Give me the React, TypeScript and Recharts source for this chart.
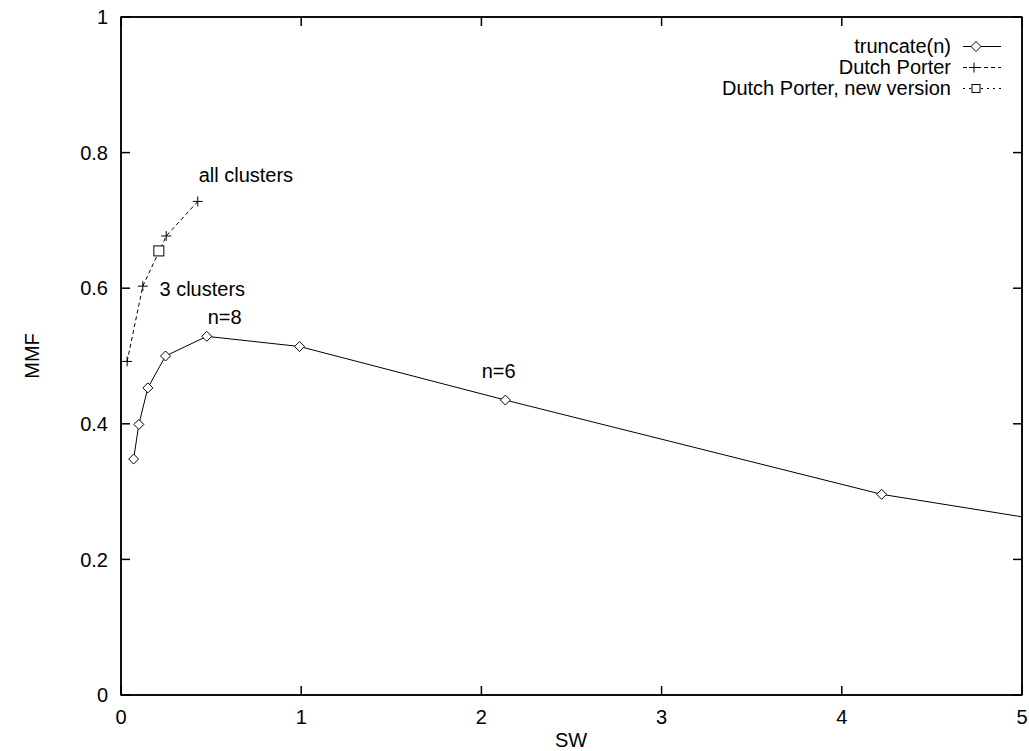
import {
  LineChart, Line, XAxis, YAxis, ReferenceDot, ReferenceArea,
} from "recharts";

// truncate(n) curve (last point runs past the frame and is clipped)
const truncX = [0.07, 0.099, 0.149, 0.247, 0.476, 0.991, 2.133, 4.221, 5.3];
const truncY = [0.348, 0.399, 0.453, 0.5, 0.529, 0.514, 0.435, 0.296, 0.25];

// Dutch Porter
const dpX = [0.034, 0.121, 0.251, 0.426];
const dpY = [0.492, 0.603, 0.677, 0.728];

// Dutch Porter, new version
const dpNewX = [0.21];
const dpNewY = [0.655];

const xTicks = [0, 1, 2, 3, 4, 5];
const yTicks = [0, 0.2, 0.4, 0.6, 0.8, 1];

const notes = ["all clusters", "3 clusters", "n=8", "n=6"];
const noteX = [0.693, 0.451, 0.575, 2.096];
const noteY = [0.767, 0.599, 0.558, 0.478];

const FONT = "'Liberation Sans', Arial, Helvetica, sans-serif";
const INK = "#000";

const zip = (xs: number[], ys: number[]) => xs.map((x, i) => ({ x, y: ys[i] }));

function Diamond({ cx, cy, s = 5 }: { cx: number; cy: number; s?: number }) {
  return (
    <path
      d={`M${cx},${cy - s}L${cx + s},${cy}L${cx},${cy + s}L${cx - s},${cy}Z`}
      fill="#fff" stroke={INK} strokeWidth={1}
    />
  );
}

function Plus({ cx, cy, s = 5 }: { cx: number; cy: number; s?: number }) {
  return (
    <path d={`M${cx - s},${cy}H${cx + s}M${cx},${cy - s}V${cy + s}`} stroke={INK} strokeWidth={1} fill="none" />
  );
}

function Square({ cx, cy, s = 5 }: { cx: number; cy: number; s?: number }) {
  return <rect x={cx - s} y={cy - s} width={2 * s} height={2 * s} fill="#fff" stroke={INK} strokeWidth={1} />;
}

function BottomLabel(props: any) {
  const { x, y, payload } = props;
  return (
    <text x={x} y={y} dy="0.71em" textAnchor="middle" fontSize={20} fontFamily={FONT} fill={INK}>
      {payload.value}
    </text>
  );
}
function LeftLabel(props: any) {
  const { x, y, payload } = props;
  return (
    <text x={x} y={y} dy="0.355em" textAnchor="end" fontSize={20} fontFamily={FONT} fill={INK}>
      {payload.value}
    </text>
  );
}
const NoLabel = () => <g />;

const legendRows = [
  { name: "truncate(n)", dash: undefined as string | undefined, mark: "diamond" },
  { name: "Dutch Porter", dash: "4 3", mark: "plus" },
  { name: "Dutch Porter, new version", dash: "2 4", mark: "square" },
];

function LegendBox() {
  return (
    <div style={{ position: "absolute", top: 36, right: 27, fontFamily: FONT, fontSize: 20, color: INK }}>
      {legendRows.map((r) => (
        <div key={r.name} style={{ display: "flex", justifyContent: "flex-end", alignItems: "center", height: 21 }}>
          <span style={{ marginRight: 11, lineHeight: "21px" }}>{r.name}</span>
          <svg width={40} height={21}>
            <line x1={1} x2={39} y1={10.5} y2={10.5} stroke={INK} strokeWidth={1} strokeDasharray={r.dash} />
            {r.mark === "diamond" && <Diamond cx={14} cy={10.5} s={5} />}
            {r.mark === "plus" && <Plus cx={12} cy={10.5} s={5} />}
            {r.mark === "square" && <Square cx={14} cy={10.5} s={4} />}
          </svg>
        </div>
      ))}
    </div>
  );
}

const axisTitle = { position: "absolute" as const, fontFamily: FONT, fontSize: 20, color: INK, lineHeight: "20px" };

export default function App() {
  const frame = { stroke: INK, strokeWidth: 1.5 };
  const tickLine = { stroke: INK, strokeWidth: 1.5 };

  return (
    <div style={{ position: "absolute", left: 0, top: 0, width: 1029, height: 751, background: "#fff" }}>
      <LineChart width={1029} height={751} margin={{ top: 2, right: 2, bottom: 0, left: 0 }}>
        <XAxis
          xAxisId="b" dataKey="x" type="number" domain={[0, 5]} ticks={xTicks} allowDataOverflow
          tick={(p: any) => <BottomLabel {...p} />} axisLine={frame} tickLine={tickLine}
          tickSize={-9} tickMargin={24} height={56}
        />
        <XAxis
          xAxisId="t" orientation="top" dataKey="x" type="number" domain={[0, 5]} ticks={xTicks} allowDataOverflow
          tick={(p: any) => <NoLabel {...p} />} axisLine={frame} tickLine={tickLine}
          tickSize={-9} height={15}
        />
        <YAxis
          yAxisId="l" type="number" domain={[0, 1]} ticks={yTicks}
          tick={(p: any) => <LeftLabel {...p} />} axisLine={frame} tickLine={tickLine}
          tickSize={-9} tickMargin={22} width={121}
        />
        <YAxis
          yAxisId="r" orientation="right" type="number" domain={[0, 1]} ticks={yTicks}
          tick={(p: any) => <NoLabel {...p} />} axisLine={frame} tickLine={tickLine}
          tickSize={-9} width={5}
        />

        <ReferenceArea
          xAxisId="t" yAxisId="r" x1={0} x2={5} y1={0} y2={1}
          fill="transparent" stroke={INK} strokeWidth={1.5}
        />

        <Line
          xAxisId="b" yAxisId="l" data={zip(truncX, truncY)} dataKey="y" stroke={INK} strokeWidth={1}
          isAnimationActive={false}
          dot={(p: any) => <Diamond key={`d${p.index}`} cx={p.cx} cy={p.cy} />}
        />
        <Line
          xAxisId="t" yAxisId="r" data={zip(dpX, dpY)} dataKey="y" stroke={INK} strokeWidth={1}
          strokeDasharray="4 3" isAnimationActive={false}
          dot={(p: any) => <Plus key={`p${p.index}`} cx={p.cx} cy={p.cy} />}
        />
        <Line
          xAxisId="t" yAxisId="r" data={zip(dpNewX, dpNewY)} dataKey="y" stroke={INK} strokeWidth={1}
          strokeDasharray="2 4" isAnimationActive={false}
          dot={(p: any) => <Square key={`s${p.index}`} cx={p.cx} cy={p.cy} />}
        />

        {notes.map((n, i) => (
          <ReferenceDot
            key={n} xAxisId="b" yAxisId="l" x={noteX[i]} y={noteY[i]} r={0}
            fill="none" stroke="none"
            label={{ value: n, position: "center", fontSize: 20, fill: INK, fontFamily: FONT }}
          />
        ))}
      </LineChart>
      <LegendBox />
      <div style={{ ...axisTitle, left: 571, top: 730, transform: "translateX(-50%)" }}>SW</div>
      <div style={{ ...axisTitle, left: 32, top: 356, transform: "translate(-50%, -50%) rotate(-90deg)" }}>MMF</div>
    </div>
  );
}
